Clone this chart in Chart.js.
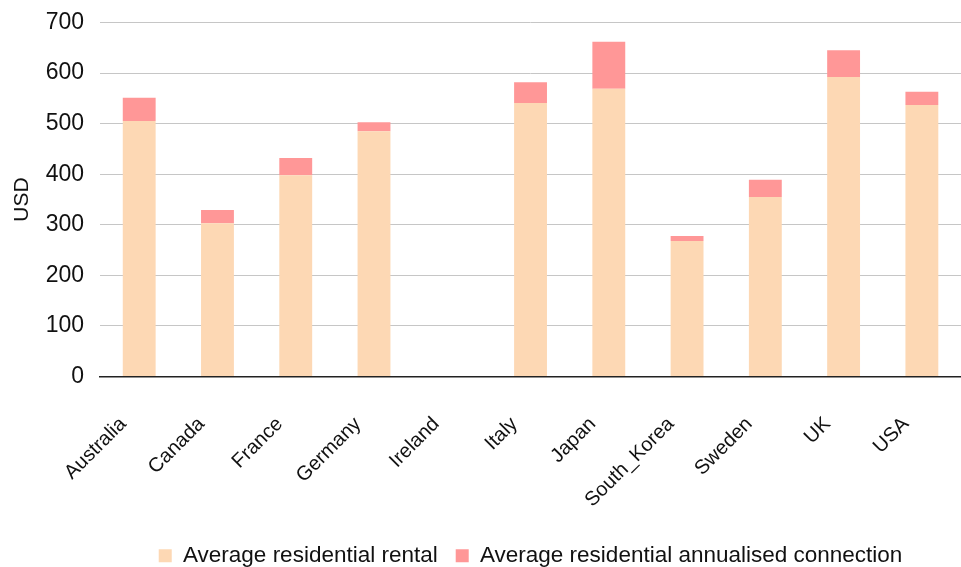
<!DOCTYPE html>
<html>
<head>
<meta charset="utf-8">
<script src="https://cdn.jsdelivr.net/npm/chart.js@4/dist/chart.umd.min.js"></script>
<style>
  html, body { margin: 0; padding: 0; background: #ffffff; }
  #wrap { width: 961px; height: 567px; position: relative; }
</style>
</head>
<body>
<div id="wrap"><canvas id="chart" width="961" height="567"></canvas></div>
<script>
// Countries along the x axis
const countries = ['Australia', 'Canada', 'France', 'Germany', 'Ireland', 'Italy', 'Japan', 'South_Korea', 'Sweden', 'UK', 'USA'];

// Average residential rental (USD)
const rental = [505, 303, 398, 485, 0, 541, 569, 268, 355, 592, 537];

// Average residential annualised connection (USD), stacked on top of rental
const connection = [46, 26, 34, 18, 0, 41, 93, 10, 34, 53, 26];

// Value axis ticks
const yTicks = [0, 100, 200, 300, 400, 500, 600, 700];

const seriesNames = ['Average residential rental', 'Average residential annualised connection'];

const FONT = '"Liberation Sans", Arial, sans-serif';

new Chart(document.getElementById('chart'), {
  type: 'bar',
  data: {
    labels: countries,
    datasets: [
      {
        label: seriesNames[0],
        data: rental,
        backgroundColor: '#FDD8B4',
        borderWidth: 0,
        barPercentage: 0.42,
        categoryPercentage: 1.0
      },
      {
        label: seriesNames[1],
        data: connection,
        backgroundColor: '#FF9797',
        borderWidth: 0,
        barPercentage: 0.42,
        categoryPercentage: 1.0
      }
    ]
  },
  options: {
    responsive: false,
    animation: false,
    layout: { padding: { top: 22.5, right: 0, left: 0, bottom: -10 } },
    plugins: {
      legend: {
        position: 'bottom',
        fullSize: false,
        labels: {
          boxWidth: 13,
          boxHeight: 13,
          padding: 18,
          color: '#111',
          font: { family: FONT, size: 22.5 }
        }
      },
      tooltip: { enabled: false }
    },
    scales: {
      x: {
        stacked: true,
        grid: { display: false, drawTicks: false },
        border: { display: true, color: '#222', width: 1.5 },
        ticks: {
          minRotation: 45,
          maxRotation: 45,
          padding: 36,
          labelOffset: -16,
          color: '#111',
          font: { family: FONT, size: 20 }
        },
        afterFit: (scale) => {
          scale.height = 150;
          scale.paddingLeft = 0;
          scale.paddingRight = 0;
        }
      },
      y: {
        stacked: true,
        min: 0,
        max: 700,
        afterBuildTicks: (scale) => { scale.ticks = yTicks.map(v => ({ value: v })); },
        afterFit: (scale) => {
          scale.paddingTop = 0;
          scale.paddingBottom = 0;
        },
        grid: { color: '#c6c6c6', lineWidth: 1, drawTicks: false },
        border: { display: false },
        ticks: {
          padding: 16,
          color: '#111',
          font: { family: FONT, size: 23 }
        },
        title: {
          display: true,
          text: 'USD',
          color: '#111',
          font: { family: FONT, size: 21 },
          padding: { top: 9.5, bottom: -5 }
        }
      }
    }
  }
});
</script>
</body>
</html>
